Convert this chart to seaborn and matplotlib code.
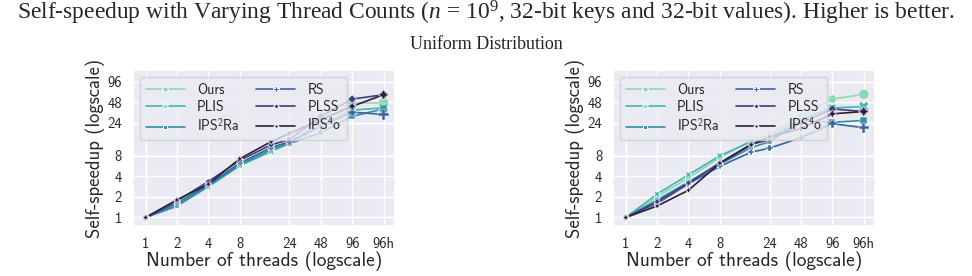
import numpy as np
import pandas as pd
import matplotlib
matplotlib.use('Agg')
import matplotlib.pyplot as plt
import seaborn as sns

# Datos
threads = [1, 2, 4, 8, 16, 24, 48, 96, 192]
algos = ['Ours', 'PLIS', r'IPS$^{\mathsf{2}}$Ra', 'RS', 'PLSS', r'IPS$^{\mathsf{4}}$o']

left_ours = [1, 1.65, 3.0, 6.2, 10.0, 12.5, 25.0, 47.0, 47.0]
left_plis = [1, 1.47, 2.8, 5.7, 9.2, 12.1, 22.0, 37.0, 40.0]
left_ips2ra = [1, 1.47, 2.9, 5.8, 9.8, 12.0, 17.3, 30.0, 38.5]
left_rs = [1, 1.6, 3.0, 6.2, 10.5, 12.8, 21.5, 34.5, 32.0]
left_plss = [1, 1.75, 3.35, 6.8, 11.5, 13.8, 30.0, 53.6, 62.0]
left_ips4o = [1, 1.81, 3.07, 7.2, 12.8, 16.9, 26.7, 42.0, 62.0]

right_ours = [1, 2.0, 3.8, 7.5, 13.3, 16.0, 30.0, 53.6, 63.0]
right_plis = [1, 2.2, 4.2, 8.0, 12.8, 14.5, 27.0, 39.8, 41.7]
right_ips2ra = [1, 1.8, 3.3, 6.0, 10.5, 12.8, 26.0, 24.5, 26.2]
right_rs = [1, 1.6, 3.1, 5.6, 9.0, 10.3, 14.6, 23.4, 20.5]
right_plss = [1, 1.7, 3.2, 6.3, 11.8, 13.6, 24.0, 38.5, 35.3]
right_ips4o = [1, 1.47, 2.5, 6.2, 11.5, 15.1, 19.9, 32.6, 35.3]

xticks = [1, 2, 4, 8, 24, 48, 96, 192]
xticklabels = ['1', '2', '4', '8', '24', '48', '96', '96h']
yticks = [1, 2, 4, 8, 24, 48, 96]


def long_df(series):
    rows = []
    for name, vals in zip(algos, series):
        for t, v in zip(threads, vals):
            rows.append({'threads': t, 'speedup': v, 'algo': name})
    return pd.DataFrame(rows)


left = long_df([left_ours, left_plis, left_ips2ra, left_rs, left_plss, left_ips4o])
right = long_df([right_ours, right_plis, right_ips2ra, right_rs, right_plss, right_ips4o])

sns.set_theme(style='darkgrid')
plt.rcParams['font.family'] = ['cmss10', 'DejaVu Sans']
plt.rcParams['axes.unicode_minus'] = False
plt.rcParams['mathtext.fontset'] = 'custom'
plt.rcParams['mathtext.rm'] = 'Liberation Serif'
plt.rcParams['mathtext.it'] = 'Liberation Serif:italic'
plt.rcParams['mathtext.sf'] = 'cmss10'

palette = sns.color_palette('mako_r', 6)

fig = plt.figure(figsize=(9.72, 2.76), dpi=100)
ax1 = fig.add_axes([0.137, 0.181, 0.2695, 0.565])
ax2 = fig.add_axes([0.631, 0.181, 0.2695, 0.565])

for ax, df in [(ax1, left), (ax2, right)]:
    sns.lineplot(data=df, x='threads', y='speedup', hue='algo', style='algo',
                 markers=True, dashes=False, palette=palette, markersize=4,
                 linewidth=1.2, ax=ax)
    sns.scatterplot(data=df, x='threads', y='speedup', hue='algo', style='algo',
                    size='threads', sizes=(18, 55), palette=palette,
                    markers=['o', 'X', (4, 0, 45), 'P', (4, 0, 0), (4, 1, 0)],
                    legend=False, ax=ax, zorder=3)
    ax.set_xscale('log', base=2)
    ax.set_yscale('log', base=2)
    ax.set_xticks(xticks)
    ax.set_xticklabels(xticklabels, fontsize=10.5)
    ax.set_yticks(yticks)
    ax.set_yticklabels([str(v) for v in yticks], fontsize=10.5)
    ax.minorticks_off()
    ax.set_xlim(0.76, 248)
    ax.set_ylim(0.75, 142)
    ax.tick_params(pad=2)
    ax.set_xlabel('Number of threads (logscale)', fontsize=14, labelpad=0)
    ax.set_ylabel('Self-speedup (logscale)', fontsize=13.5, labelpad=2)
    ax.legend(loc='upper left', ncol=2, fontsize=10, handlelength=2.8,
              columnspacing=1.2, handletextpad=0.9, labelspacing=0.25,
              borderpad=0.4, frameon=True)

fig.text(0.5, 0.955, 'Self-speedup with Varying Thread Counts ($n$ = 10$^9$, 32-bit keys and 32-bit values). Higher is better.',
         ha='center', va='center', fontsize=16.9, family='Liberation Serif')
fig.text(0.5, 0.84, 'Uniform Distribution', ha='center', va='center',
         fontsize=13, family='Liberation Serif')

plt.savefig('out.png', dpi=100)
